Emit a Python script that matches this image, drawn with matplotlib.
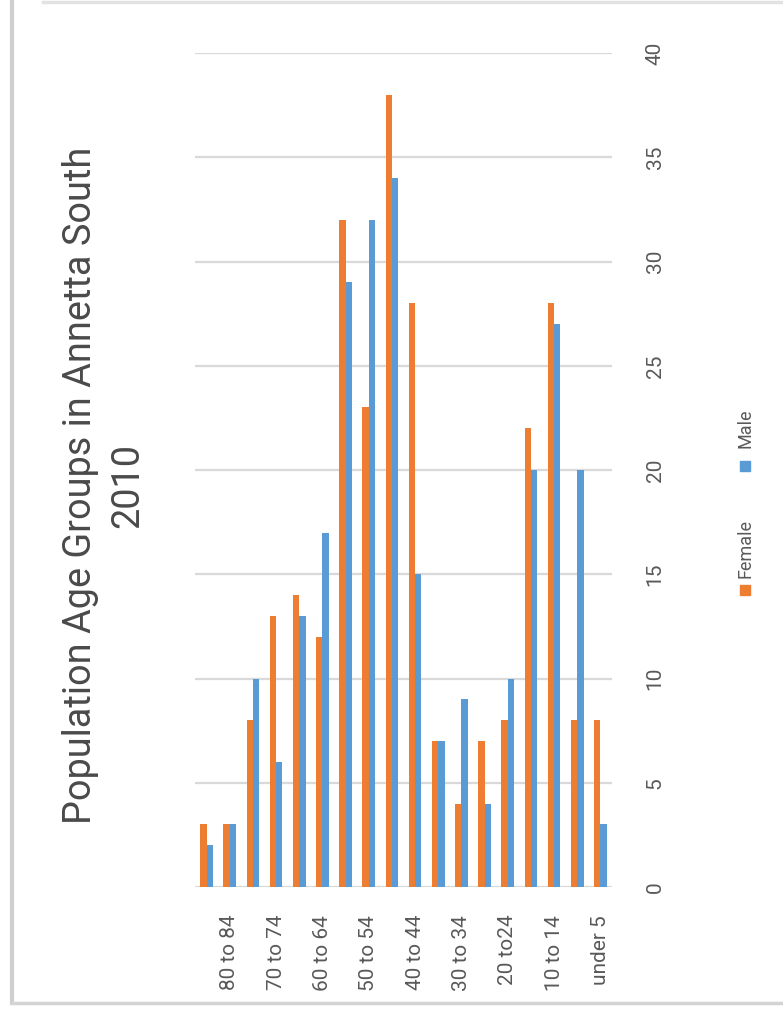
import matplotlib.pyplot as plt
import matplotlib.patches as mpatches
from matplotlib.lines import Line2D
import numpy as np

plt.rcParams['font.family'] = ['Roboto', 'DejaVu Sans']

age_groups = ['85 and over', '80 to 84', '75 to 79', '70 to 74', '65 to 69', '60 to 64',
              '55 to 59', '50 to 54', '45 to 49', '40 to 44', '35 to 39', '30 to 34',
              '25 to 29', '20 to24', '15 to 19', '10 to 14', '5 to 9', 'under 5']
female = [3, 3, 8, 13, 14, 12, 32, 23, 38, 28, 7, 4, 7, 8, 22, 28, 8, 8]
male = [2, 3, 10, 6, 13, 17, 29, 32, 34, 15, 7, 9, 4, 10, 20, 27, 20, 3]
value_ticks = [0, 5, 10, 15, 20, 25, 30, 35, 40]
series_names = ['Female', 'Male']
series_colors = ['#ED7D31', '#5B9BD5']
text_grey = '#595959'

W, H = 783, 1014
fig = plt.figure(figsize=(W / 100, H / 100), dpi=100)
fig.patch.set_facecolor('white')

# plot area (the chart is laid out turned on its side)
ax = fig.add_axes([195 / W, (H - 887) / H, (612 - 195) / W, (887 - 53) / H])
x = np.arange(len(age_groups))
w = 0.27
ax.bar(x - w / 2, female, w, color=series_colors[0], zorder=3)
ax.bar(x + w / 2, male, w, color=series_colors[1], zorder=3)
ax.set_xlim(-0.5, len(age_groups) - 0.5)
ax.set_ylim(0, 40)
ax.set_yticks(value_ticks)
ax.yaxis.tick_right()
ax.tick_params(axis='y', length=0, pad=31, labelsize=15, labelcolor=text_grey)
for lab in ax.get_yticklabels():
    lab.set_rotation(90)
    lab.set_va('center')
    lab.set_ha('center')
ax.set_xticks(x[1::2])
ax.set_xticklabels(age_groups[1::2], rotation=90)
ax.tick_params(axis='x', length=0, pad=20, labelsize=15, labelcolor=text_grey)
ax.grid(axis='y', color='#d9d9d9', lw=1.6, zorder=0)
for s in ax.spines.values():
    s.set_visible(False)

# title
fig.text(104 / W, (H - 485) / H, 'Population Age Groups in Annetta South\n2010',
         rotation=90, ha='center', va='center', fontsize=27.3,
         color='#4a4a4a', multialignment='center', linespacing=1.33)

# legend
leg_x = 745
items = [(590, 549), (466, 428)]
for (py, ty), name, col in zip(items, series_names, series_colors):
    fig.add_artist(mpatches.Rectangle(((leg_x - 5) / W, (H - py - 5) / H), 10 / W, 10 / H,
                                      transform=fig.transFigure, color=col))
    fig.text(leg_x / W, (H - ty) / H, name, rotation=90, ha='center', va='center',
             fontsize=13, color=text_grey)

# outer frame
fig.add_artist(Line2D([12 / W, 12 / W], [1, 1 - 1003 / H], color='#cfcfcf', lw=3))
fig.add_artist(Line2D([43 / W, 1], [1 - 2 / H, 1 - 2 / H], color='#e2e2e2', lw=2.5))
fig.add_artist(Line2D([12 / W, 1], [1 - 1003 / H, 1 - 1003 / H], color='#d4d4d4', lw=2.5))

fig.savefig('out.png', dpi=100)
